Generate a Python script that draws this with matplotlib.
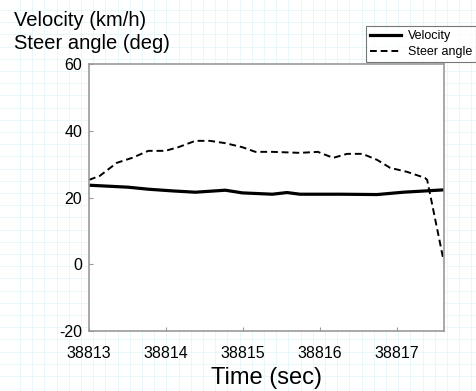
import numpy as np
import matplotlib.pyplot as plt

plt.rcParams['font.family'] = ['Liberation Sans', 'DejaVu Sans']
plt.rcParams['axes.unicode_minus'] = False

# velocity (km/h)
vel_t = [38813.0, 38813.51, 38813.77, 38814.08, 38814.38, 38814.77, 38814.99,
         38815.38, 38815.57, 38815.74, 38816.26, 38816.74, 38817.08, 38817.6]
vel = [23.7, 23.1, 22.5, 22.0, 21.6, 22.2, 21.4, 21.0, 21.5, 21.0, 21.0, 20.9, 21.6, 22.3]

# steer angle (deg)
steer_t = [38813.0, 38813.14, 38813.36, 38813.56, 38813.77, 38813.99, 38814.16,
           38814.38, 38814.57, 38814.77, 38814.99, 38815.16, 38815.38, 38815.74,
           38815.97, 38816.17, 38816.35, 38816.55, 38816.74, 38816.91, 38817.13,
           38817.36, 38817.39, 38817.6]
steer = [25.3, 26.5, 30.4, 31.9, 34.0, 34.0, 35.1, 37.0, 37.0, 36.3, 35.1, 33.7,
         33.7, 33.4, 33.7, 31.9, 33.1, 33.1, 31.3, 28.9, 27.7, 25.9, 25.3, 1.5]

xticks = [38813, 38814, 38815, 38816, 38817]
yticks = [-20, 0, 20, 40, 60]

fig = plt.figure(figsize=(4.76, 3.91), dpi=100)

# graph paper background
bg = fig.add_axes([0, 0, 1, 1], zorder=-5)
bg.set_xlim(0, 476)
bg.set_ylim(391, 0)
for gx in np.arange(20, 476, 12.2):
    bg.axvline(gx, color='#e8f7f9', lw=0.7)
for gy in np.arange(10, 386, 12.2):
    bg.axhline(gy, color='#e8f7f9', lw=0.7)
bg.axis('off')

ax = fig.add_axes([0.187, 0.1535, 0.746, 0.6825])
ax.plot(vel_t, vel, color='black', lw=2.3, label='Velocity')
ax.plot(steer_t, steer, color='black', lw=1.4, ls=(0, (3.5, 2)), label='Steer angle')
ax.set_xlim(38813, 38817.61)
ax.set_ylim(-20, 60)
ax.set_xticks(xticks)
ax.set_xticklabels([str(t) for t in xticks])
ax.set_yticks(yticks)
ax.tick_params(direction='in', length=3, color='#999999', labelsize=11.5)
ax.tick_params(axis='x', pad=11)
ax.tick_params(axis='y', pad=5)
for s in ax.spines.values():
    s.set_color('#999999')
    s.set_linewidth(1.2)

ax.set_xlabel('Time (sec)', fontsize=17, labelpad=4)
fig.text(0.03, 0.972, 'Velocity (km/h)\nSteer angle (deg)', fontsize=14.5,
         va='top', ha='left', linespacing=1.3)

leg = fig.legend(loc='upper left', bbox_to_anchor=(0.755, 0.95), fontsize=9,
                 frameon=True, fancybox=False, edgecolor='#555555',
                 handlelength=2.5, borderpad=0.35, labelspacing=0.3, handletextpad=0.5)
leg.get_frame().set_linewidth(0.8)

fig.savefig('out.png', dpi=100)
